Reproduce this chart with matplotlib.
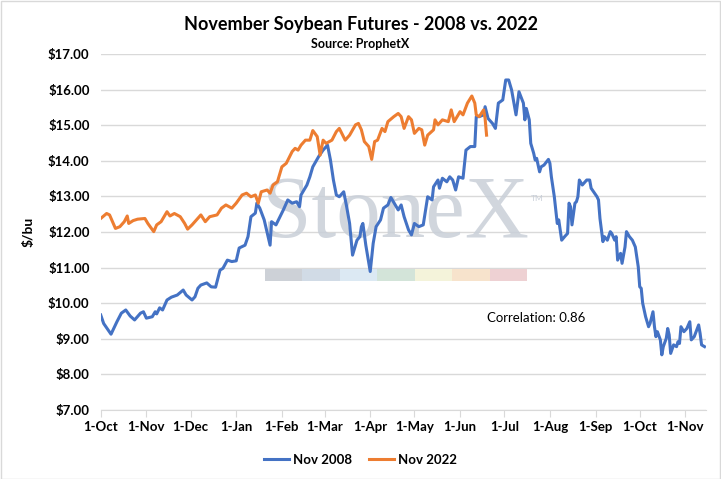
import datetime as dt
import matplotlib
matplotlib.use("Agg")
import matplotlib.pyplot as plt
import matplotlib.dates as mdates
from matplotlib.patches import Rectangle

# days after 1-Oct of the year before the contract year
days_2008 = [0, 2, 7, 11, 14, 17, 20, 23, 27, 29, 31, 35, 37, 38, 40, 42, 45, 48, 52, 56,
             58, 62, 64, 66, 68, 72, 75, 78, 81, 83, 86, 89, 92, 94, 98, 100, 102, 105, 106, 108,
             111, 115, 116, 119, 124, 127, 130, 133, 135, 136, 140, 142, 144, 148, 151, 154, 156, 158, 160, 162,
             165, 167, 169, 171, 174, 176, 177, 178, 180, 183, 185, 187, 190, 192, 195, 197, 200, 202, 204, 206,
             209, 211, 213, 216, 219, 222, 225, 226, 229, 230, 232, 235, 237, 239, 241, 243, 246, 248, 251, 254,
             255, 257, 260, 261, 263, 266, 268, 270, 273, 275, 277, 279, 282, 284, 287, 288, 289, 291, 292, 294,
             295, 296, 298, 299, 301, 304, 305, 306, 308, 310, 311, 313, 315, 317, 318, 319, 320, 322, 323, 324,
             325, 327, 330, 332, 333, 337, 338, 339, 341, 342, 344, 346, 347, 349, 350, 351, 353, 354, 356, 357,
             359, 361, 363, 365, 366, 367, 368, 370, 372, 373, 375, 376, 377, 378, 380, 381, 382, 384, 385, 386,
             387, 389, 391, 392, 393, 394, 396, 398, 400, 401, 403, 406, 407, 408, 410]
price_2008 = [9.67, 9.43, 9.13, 9.48, 9.72, 9.81, 9.64, 9.53, 9.72, 9.76, 9.58, 9.62, 9.76, 9.70, 9.87, 9.81, 10.09, 10.17, 10.23, 10.37,
              10.23, 10.09, 10.18, 10.42, 10.51, 10.57, 10.46, 10.45, 10.93, 10.98, 11.21, 11.17, 11.19, 11.55, 11.63, 11.87, 12.43, 12.53, 12.81, 12.67,
              12.34, 11.63, 12.29, 12.20, 12.62, 12.90, 12.81, 12.85, 12.71, 13.04, 13.32, 13.55, 13.83, 14.12, 14.30, 14.44, 14.02, 13.46, 13.04, 12.99,
              13.13, 12.71, 12.24, 11.35, 11.77, 11.87, 12.15, 12.24, 11.63, 10.89, 11.68, 12.15, 12.34, 12.67, 12.76, 12.97, 12.76, 12.62, 12.76, 12.43,
              12.06, 11.92, 12.24, 12.15, 12.20, 12.99, 12.90, 13.27, 13.46, 13.23, 13.51, 13.41, 13.55, 13.46, 13.18, 13.55, 13.51, 14.30, 14.40, 14.40,
              15.24, 15.24, 15.29, 15.52, 15.19, 15.05, 14.91, 15.62, 15.71, 16.27, 16.27, 15.99, 15.29, 15.94, 15.62, 15.15, 15.47, 15.15, 14.49, 14.21,
              14.02, 14.07, 13.69, 13.83, 13.88, 14.04, 13.93, 13.55, 12.99, 12.24, 12.34, 11.77, 11.87, 11.96, 12.81, 12.71, 12.20, 12.81, 12.85, 12.99,
              13.46, 13.32, 13.46, 13.46, 13.23, 12.99, 12.90, 12.38, 11.73, 11.87, 11.77, 12.01, 11.96, 11.77, 11.87, 11.21, 11.40, 11.12, 11.58, 12.01,
              11.87, 11.77, 11.58, 11.02, 10.46, 10.42, 10.00, 9.62, 9.34, 9.43, 9.76, 9.34, 9.06, 9.20, 8.97, 8.55, 8.78, 9.01, 9.29, 9.11,
              8.59, 8.83, 8.78, 8.92, 8.87, 9.34, 9.20, 9.29, 9.48, 8.97, 9.06, 9.39, 9.15, 8.83, 8.78]

days_2022 = [0, 4, 6, 10, 13, 16, 18, 19, 22, 25, 30, 32, 36, 38, 41, 45, 47, 50, 54, 57,
             59, 62, 65, 68, 71, 74, 79, 82, 85, 89, 92, 96, 99, 102, 105, 107, 109, 113, 115, 117,
             120, 123, 126, 130, 132, 134, 136, 139, 142, 144, 147, 149, 151, 153, 157, 160, 162, 166, 169, 173,
             175, 177, 179, 182, 184, 186, 188, 191, 193, 195, 199, 202, 204, 206, 209, 211, 213, 216, 218, 220,
             222, 226, 227, 229, 232, 236, 238, 240, 244, 246, 249, 252, 254, 255, 257, 260, 261, 262]
price_2022 = [12.38, 12.52, 12.48, 12.10, 12.15, 12.29, 12.45, 12.24, 12.32, 12.36, 12.38, 12.24, 12.01, 12.20, 12.29, 12.57, 12.45, 12.52, 12.43, 12.24,
              12.08, 12.20, 12.34, 12.48, 12.29, 12.43, 12.48, 12.67, 12.76, 12.67, 12.81, 13.04, 13.09, 12.99, 13.04, 12.81, 13.13, 13.18, 13.09, 13.32,
              13.41, 13.83, 13.93, 14.26, 14.35, 14.30, 14.44, 14.58, 14.58, 14.85, 14.68, 14.16, 14.58, 14.49, 14.58, 14.82, 14.91, 14.58, 14.72, 15.01,
              15.05, 14.87, 14.54, 14.40, 14.04, 14.54, 14.58, 14.91, 14.82, 15.10, 15.24, 15.33, 15.24, 14.91, 15.24, 15.15, 14.77, 14.91, 14.87, 14.44,
              14.72, 14.87, 15.15, 15.01, 15.15, 15.10, 15.43, 15.10, 15.38, 15.29, 15.62, 15.82, 15.62, 15.29, 15.24, 15.43, 15.19, 14.72]

start = dt.datetime(2007, 10, 1)
end = dt.datetime(2008, 11, 15)
dates_2008 = [start + dt.timedelta(days=d) for d in days_2008]
dates_2022 = [start + dt.timedelta(days=d) for d in days_2022]

plt.rcParams['font.family'] = ['Lato', 'DejaVu Sans']

fig = plt.figure(figsize=(7.21, 4.79), dpi=100)
ax = fig.add_axes([0.1397, 0.144, 0.8395, 0.7433])

ax.plot(dates_2008, price_2008, color='#4472C4', lw=2.2, label='Nov 2008', zorder=3)
ax.plot(dates_2022, price_2022, color='#ED7D31', lw=2.2, label='Nov 2022', zorder=3)

ax.set_ylim(7, 17)
ax.set_xlim(start, end)
ax.set_yticks(range(7, 18))
ax.set_yticklabels(['$%.2f' % v for v in range(7, 18)], fontsize=9.5, fontweight='bold')
ax.xaxis.set_major_locator(mdates.MonthLocator())
ax.xaxis.set_major_formatter(mdates.DateFormatter('1-%b'))
for lbl in ax.get_xticklabels():
    lbl.set_fontsize(9.5)
    lbl.set_fontweight('bold')

ax.grid(axis='y', color='#D9D9D9', lw=1)
ax.set_axisbelow(True)
for s in ['top', 'right', 'left']:
    ax.spines[s].set_visible(False)
ax.spines['bottom'].set_color('#D9D9D9')
ax.tick_params(axis='y', length=0, pad=8)
ax.tick_params(axis='x', length=5, color='#D9D9D9', pad=3)
ax.set_ylabel('$/bu', fontsize=10, fontweight='bold', labelpad=10)

# watermark
ax.text(0.548, 0.55, 'StoneX', transform=fig.transFigure, ha='center', va='center',
        fontsize=64, family='Liberation Serif', color='#C9CFD8', alpha=0.85, zorder=1.5)
ax.text(0.745, 0.585, 'TM', transform=fig.transFigure, ha='center', va='center',
        fontsize=6, color='#C9CFD8', zorder=1.5)
band = ['#CDD1D7', '#D1DBE6', '#DCE9F3', '#D3E4D9', '#F4F3DA', '#F7E3CC', '#EED1D3']
w = (527 - 265) / 721 / len(band)
for i, c in enumerate(band):
    ax.add_patch(Rectangle((265 / 721 + i * w, 1 - 281 / 479), w, 12 / 479, transform=fig.transFigure,
                           facecolor=c, edgecolor='none', zorder=1.5, clip_on=False))

ax.text(dt.datetime(2008, 6, 19), 9.58, 'Correlation: 0.86', fontsize=9.5, va='center', zorder=4)

fig.text(0.5, 0.948, 'November Soybean Futures - 2008 vs. 2022', ha='center', va='center',
         fontsize=13, fontweight='bold')
fig.text(0.5, 0.908, 'Source: ProphetX', ha='center', va='center', fontsize=9, fontweight='bold')

fig.legend(loc='center', bbox_to_anchor=(0.5, 0.04), ncol=2, frameon=False,
           handlelength=1.9, handletextpad=0.3, columnspacing=1.3,
           prop={'weight': 'bold', 'size': 9.5})

fig.patches.append(Rectangle((0.001, 0.001), 0.997, 0.997, transform=fig.transFigure,
                             fill=False, edgecolor='#D9D9D9', lw=1))

fig.savefig('out.png', dpi=100)
